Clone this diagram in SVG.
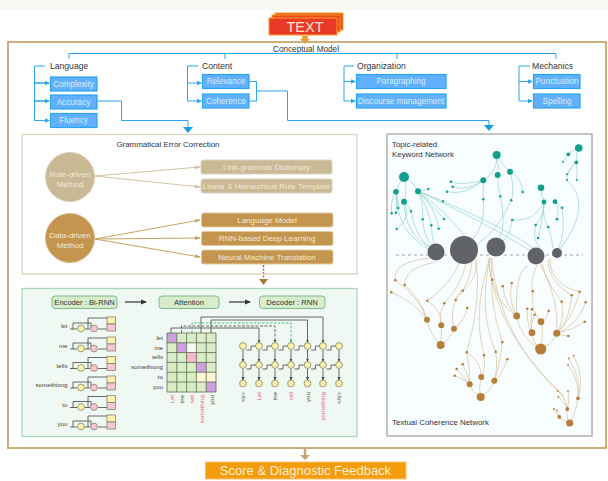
<svg xmlns="http://www.w3.org/2000/svg" width="608" height="481" viewBox="0 0 608 481">
<style>
text{font-family:"Liberation Sans",Arial,sans-serif;}
.lb{font-size:8.6px;fill:#333;}
.sm{font-size:7.9px;fill:#333;}
.bx{fill:#60b0fb;stroke:#2aa5f0;stroke-width:1.2;}
.bt{font-size:8.2px;fill:#d9edff;text-anchor:middle;}
.bl{fill:none;stroke:#2aa5f0;stroke-width:1;}
.rb{fill:#c9b994;stroke:#ddd3bd;}
.db{fill:#c4954f;stroke:#e3c99c;}
.wt{font-size:8px;fill:#f3ead9;text-anchor:middle;}
.rl{fill:none;stroke:#d4c4a2;stroke-width:1;}
.dl{fill:none;stroke:#c9a262;stroke-width:1;}
.gb{fill:#d6eccb;stroke:#82b98f;stroke-width:1;}
.gt{font-size:7.6px;fill:#333;text-anchor:middle;}
.k{fill:none;stroke:#444;stroke-width:.8;}
.y{fill:#fbf2ae;stroke:#77775a;stroke-width:.7;}
.p{fill:#f6c6d4;stroke:#77775a;stroke-width:.7;}
.w{font-size:6.2px;fill:#444;text-anchor:end;}
.r{font-size:6.2px;fill:#e8608a;text-anchor:end;}
.tl{fill:none;stroke:#93d3c8;stroke-width:.7;}
.bn{fill:none;stroke:#d9bf98;stroke-width:.7;}
.t{fill:#12a08c;}
.o{fill:#b57f3a;}
.g{fill:#626366;}
</style>
<defs>
<marker id="ab" markerWidth="5" markerHeight="5" refX="4" refY="2.5" orient="auto" markerUnits="userSpaceOnUse"><path d="M0 0.3L5 2.5L0 4.7Z" fill="#2aa5f0"/></marker>
<marker id="ar" markerWidth="6" markerHeight="6" refX="5" refY="3" orient="auto" markerUnits="userSpaceOnUse"><path d="M0 1L6 3L0 5Z" fill="#d4c4a2"/></marker>
<marker id="ad" markerWidth="6" markerHeight="6" refX="5" refY="3" orient="auto" markerUnits="userSpaceOnUse"><path d="M0 1L6 3L0 5Z" fill="#c9a262"/></marker>
<marker id="ak" markerWidth="6" markerHeight="6" refX="5" refY="3" orient="auto" markerUnits="userSpaceOnUse"><path d="M0 .5L6 3L0 5.5Z" fill="#333"/></marker>
<marker id="as" markerWidth="4" markerHeight="4" refX="3" refY="2" orient="auto" markerUnits="userSpaceOnUse"><path d="M0 .5L3.5 2L0 3.5Z" fill="#444"/></marker>
<marker id="ag" markerWidth="4" markerHeight="4" refX="3" refY="2" orient="auto" markerUnits="userSpaceOnUse"><path d="M0 .5L3.5 2L0 3.5Z" fill="#3aa878"/></marker>
<g id="enc">
<path class="k" d="M70 3H77M73 3V-3H91V2M85 3H90M88 3V-8H107M98 3H107"/>
<circle class="y" cx="81" cy="2.5" r="3.4"/><circle class="p" cx="94" cy="2.5" r="3.4"/>
<rect class="y" x="107" y="-9" width="8.5" height="7"/><rect class="p" x="107" y="-2" width="8.5" height="7"/>
</g>
<g id="dc">
<path class="k" marker-end="url(#as)" d="M0 349.5V361.5"/><path class="k" marker-end="url(#as)" d="M0 368.5V380"/>
<circle class="y" cx="0" cy="346" r="3.4"/><circle class="y" cx="0" cy="365" r="3.4"/><circle class="y" cx="0" cy="383.5" r="3.4"/>
</g>
<g id="ds"><path class="k" d="M3.5 350H8V346H12.5M3.5 369H8V365H12.5"/></g>
</defs>
<rect width="608" height="481" fill="#fff"/>
<rect width="608" height="10" fill="#fbf9f4"/>

<g id="text-stack">
<rect x="275" y="13" width="68" height="17" fill="#e8471f" stroke="#f7a21e"/>
<rect x="272" y="15" width="68" height="17" fill="#e8471f" stroke="#f7a21e"/>
<rect x="269" y="18" width="68" height="17" fill="#e83a26" stroke="#f7a21e"/>
<text x="305" y="32" font-size="14.5" fill="#fbe3d0" text-anchor="middle">TEXT</text>
</g>
<path d="M302 36H308V39H310L305 44L300 39H302Z" fill="#f0a030"/>

<g id="conceptual-model">
<rect x="8" y="42" width="598" height="406" fill="none" stroke="#c9a66f" stroke-width="1.8"/>
<text x="306" y="52" font-size="8.2" fill="#333" text-anchor="middle">Conceptual Model</text>
</g>

<g id="connectors">
<path class="bl" stroke-width="1" d="M69 59V53.5H556V59M225 53.5V59M397 53.5V59"/>
<path class="bl" d="M45 66H34.5V120.500M34.500 83H46M34.500 101H46M34.500 120.500H46"/>
<path class="bl" marker-end="url(#ab)" d="M34.500 83H49"/><path class="bl" marker-end="url(#ab)" d="M34.500 101H49"/><path class="bl" marker-end="url(#ab)" d="M34.500 120.500H49"/>
<path class="bl" d="M198 66H187.500V101"/>
<path class="bl" marker-end="url(#ab)" d="M187.500 83H201"/><path class="bl" marker-end="url(#ab)" d="M187.500 101H201"/>
<path class="bl" d="M354 66H344V101"/>
<path class="bl" marker-end="url(#ab)" d="M344 81.500H355"/><path class="bl" marker-end="url(#ab)" d="M344 101H355"/>
<path class="bl" d="M530 66H519V101"/>
<path class="bl" marker-end="url(#ab)" d="M519 81.500H532"/><path class="bl" marker-end="url(#ab)" d="M519 101H532"/>
<path class="bl" d="M97 101H121.500V120.500H188V127"/><path d="M183 127H193L188 133Z" fill="#1b9ae4"/>
<path class="bl" d="M249 81.500H256.500V101H249M256.500 91H287.500V120.500H489V125"/><path d="M484 125H494L489 131Z" fill="#1b9ae4"/>
<path class="rl" marker-end="url(#ar)" d="M95 176L200 167"/><path class="rl" marker-end="url(#ar)" d="M95 176L200 187"/>
<path class="dl" marker-end="url(#ad)" d="M95 239L200 220"/><path class="dl" marker-end="url(#ad)" d="M95 239L200 238"/><path class="dl" marker-end="url(#ad)" d="M95 239L200 257"/>
<path d="M263.500 265V279" fill="none" stroke="#a8763a" stroke-width="1.500" stroke-dasharray="2 1.500"/><path d="M259 279H268L263.500 285Z" fill="#a8763a"/>
<path d="M305 448V456" stroke="#c9a66f" stroke-width="2.500" fill="none"/><path d="M300 455H310L305 460Z" fill="#c9a66f"/>
</g>

<g id="language"><text class="lb" x="50" y="69">Language</text>
<rect class="bx" x="50.500" y="77" width="46.500" height="14"/><text class="bt" x="73.500" y="86.500">Complexity</text>
<rect class="bx" x="50.500" y="95" width="46.500" height="14"/><text class="bt" x="73.500" y="104.500">Accuracy</text>
<rect class="bx" x="50.500" y="113.500" width="46.500" height="14"/><text class="bt" x="73.500" y="123">Fluency</text></g>
<g id="content"><text class="lb" x="202" y="69">Content</text>
<rect class="bx" x="202.500" y="74.500" width="46.500" height="14"/><text class="bt" x="226" y="84">Relevance</text>
<rect class="bx" x="202.500" y="94" width="46.500" height="14"/><text class="bt" x="226" y="104">Coherence</text></g>
<g id="organization"><text class="lb" x="357" y="69">Organization</text>
<rect class="bx" x="356.500" y="74.500" width="89.500" height="14"/><text class="bt" x="401" y="84">Paragraphing</text>
<rect class="bx" x="356.500" y="94" width="89.500" height="14"/><text class="bt" x="401" y="104">Discourse management</text></g>
<g id="mechanics"><text class="lb" x="532" y="69">Mechanics</text>
<rect class="bx" x="533.500" y="74.500" width="46.500" height="14"/><text class="bt" x="557" y="84">Punctuation</text>
<rect class="bx" x="533.500" y="94" width="46.500" height="14"/><text class="bt" x="557" y="104">Spelling</text></g>

<g id="gec">
<rect x="22" y="134.500" width="335" height="139.500" fill="none" stroke="#ddd3bd" stroke-width="1.300"/>
<text class="sm" x="168" y="146.500" text-anchor="middle">Grammatical Error Correction</text>
</g>
<g id="rule-driven"><circle cx="70" cy="177" r="24.500" fill="#c9b994" stroke="#d8ccb0"/><text class="wt" x="70" y="177">Rule-driven</text><text class="wt" x="70" y="187">Method</text></g>
<g id="data-driven"><circle cx="70" cy="238" r="24.500" fill="#c4954f" stroke="#d8b888"/><text class="wt" x="70" y="238">Data-driven</text><text class="wt" x="70" y="247.500">Method</text></g>
<g id="g1"><rect class="rb" x="201" y="160" width="131" height="14" rx="2"/><text class="wt" x="266.500" y="169.500">Link-grammar Dictionary</text></g>
<g id="g2"><rect class="rb" x="201" y="179" width="131" height="14" rx="2"/><text class="wt" x="266.500" y="188.500">Linear &amp; Hierarchical Rule Template</text></g>
<g id="g3"><rect class="db" x="201.500" y="213" width="131.500" height="14" rx="2"/><text class="wt" x="267" y="222.500">Language Model</text></g>
<g id="g4"><rect class="db" x="201.500" y="231.500" width="131.500" height="14" rx="2"/><text class="wt" x="267" y="241">RNN-based Deep Learning</text></g>
<g id="g5"><rect class="db" x="201.500" y="250" width="131.500" height="14" rx="2"/><text class="wt" x="267" y="259.500">Neural Machine Translation</text></g>

<g id="nmt">
<rect x="22" y="288.500" width="335" height="148" fill="#eff8f2" stroke="#a9d8be" stroke-width="1.300"/>
<g id="encoder"><rect class="gb" x="52" y="296" width="65" height="12.500" rx="3"/><text class="gt" x="84.500" y="305">Encoder : Bi-RNN</text></g>
<g id="attention"><rect class="gb" x="159" y="296" width="60" height="12.500" rx="3"/><text class="gt" x="189" y="305">Attention</text></g>
<g id="decoder"><rect class="gb" x="259.500" y="296" width="65.500" height="12.500" rx="3"/><text class="gt" x="292" y="305">Decoder : RNN</text></g>
<path d="M125 302H146" stroke="#333" stroke-width="1.200" marker-end="url(#ak)" fill="none"/>
<path d="M229 302H250" stroke="#333" stroke-width="1.200" marker-end="url(#ak)" fill="none"/>

<use href="#enc" y="326"/><use href="#enc" y="346"/><use href="#enc" y="365.500"/><use href="#enc" y="385"/><use href="#enc" y="404.500"/><use href="#enc" y="424"/>
<g font-size="6.200" fill="#444">
<text class="w" x="67.500" y="328">let</text><text class="w" x="67.500" y="348">me</text><text class="w" x="67.500" y="367.500">tells</text><text class="w" x="67.500" y="387">somethiong</text><text class="w" x="67.500" y="406.500">to</text><text class="w" x="67.500" y="426">you</text>
</g>

<rect x="167" y="333" width="49" height="59" fill="#d9eec6"/>
<rect x="167" y="333" width="9.800" height="9.800" fill="#cf9fe0"/>
<rect x="176.800" y="342.800" width="9.800" height="9.800" fill="#cf9fe0"/>
<rect x="186.600" y="342.800" width="9.800" height="9.800" fill="#f8faf4"/>
<rect x="186.600" y="352.600" width="9.800" height="9.800" fill="#f9b9cc"/>
<rect x="196.400" y="362.400" width="9.800" height="9.800" fill="#cf9fe0"/>
<rect x="196.400" y="372.200" width="19.600" height="9.800" fill="#fdf7d4"/>
<rect x="206.200" y="382" width="9.800" height="10" fill="#cf9fe0"/>
<path d="M167 333H216V392H167ZM176.800 333V392M186.600 333V392M196.400 333V392M206.200 333V392M167 342.800H216M167 352.600H216M167 362.400H216M167 372.200H216M167 382H216" fill="none" stroke="#5c6a50" stroke-width=".8"/>
<text class="w" x="163" y="340">let</text><text class="w" x="163" y="349.500">me</text><text class="w" x="163" y="359">tells</text><text class="w" x="163" y="369">somethiong</text><text class="w" x="163" y="379">to</text><text class="w" x="163" y="388.500">you</text>
<text class="r" transform="translate(174 395) rotate(-90)">Let</text>
<text class="w" transform="translate(184 395) rotate(-90)">me</text>
<text class="r" transform="translate(194 395) rotate(-90)">tell</text>
<text class="r" transform="translate(203.500 395) rotate(-90)">something</text>
<text class="w" transform="translate(213.500 395) rotate(-90)">you</text>

<use href="#dc" x="243"/><use href="#dc" x="259"/><use href="#dc" x="275"/><use href="#dc" x="291"/><use href="#dc" x="307.500"/><use href="#dc" x="323"/><use href="#dc" x="339"/>
<use href="#ds" x="243"/><use href="#ds" x="259"/><use href="#ds" x="275"/><use href="#ds" x="291"/><use href="#ds" x="307.500"/><use href="#ds" x="323"/>
<path class="k" marker-end="url(#as)" d="M171 333V328H259V342.500"/>
<path class="k" stroke-dasharray="3 1.500" marker-end="url(#as)" d="M181.500 333V326H275V342.500"/>
<path fill="none" stroke="#3aa878" stroke-width=".8" stroke-dasharray="2.500 1.500" marker-end="url(#ag)" d="M192 333V323H291V342.500"/>
<path class="k" marker-end="url(#as)" d="M201 333V317H323V342.500"/>
<path class="k" marker-end="url(#as)" d="M211 333V320H307.500V342.500"/>
<text class="w" transform="translate(245 392) rotate(-90)">&lt;s&gt;</text>
<text class="r" transform="translate(261 392) rotate(-90)">Let</text>
<text class="w" transform="translate(277 392) rotate(-90)">me</text>
<text class="r" transform="translate(293 392) rotate(-90)">tell</text>
<text class="w" transform="translate(309.500 392) rotate(-90)">you</text>
<text class="r" transform="translate(325 392) rotate(-90)">something</text>
<text class="w" transform="translate(341 392) rotate(-90)">&lt;/s&gt;</text>
</g>

<g id="network">
<rect x="387" y="134" width="205" height="302" fill="#f8fdff" stroke="#b0b0b0" stroke-width="1.500"/>
<text class="sm" x="392" y="147">Topic-related</text>
<text class="sm" x="392" y="156.500">Keyword Network</text>
<text class="sm" x="392" y="424.500">Textual Coherence Network</text>
<path d="M396 255H583" stroke="#a5a5a5" stroke-width="1" stroke-dasharray="3 3" fill="none"/>

<g id="teal-links" class="tl">
<path d="M404 177Q398 184 396 192M404 177Q408 190 404 202M404 177Q412 180 418 191M396 192Q390 200 391.700 213M396 192Q398 202 396 212.700M396 192Q399 200 398.300 208M404 202Q412 218 396.700 229M396 192Q396 232 430 250M404 202Q405 235 431 248M404 202Q409 205 411 211M411 211Q416 240 432 248"/>
<path d="M418 191Q424 191 428.300 189M418 191L443 201.300M418 191Q424 205 422.700 219.300M418 191Q428 208 431.300 225.300M418 191Q432 205 444 219M418 191Q436 208 438.700 228.700M422.700 219Q424 238 432 245M431.300 225Q432 238 434 244M418 191Q450 215 466 238M443 201.300Q500 225 535 249M418 191Q490 225 532 252"/>
<path d="M483.300 180.300Q462 186 451 181.700M483.300 180.300Q465 192 452.700 186.700M483.300 180.300Q465 196 447 191.700M496.700 155Q498 172 483.300 180.300M496.700 155Q499 165 497.700 175M496.700 155Q502 165 510 171.700M510 171.700Q522 178 522.700 192M510 171.700Q515 188 511.300 200.300M497.700 175Q498 188 500.300 196.300M483.300 180.300V199.300M483.300 199.300Q486 225 472 240M511.300 200.300Q498 232 474 246M500.300 196.300Q506 222 500 238"/>
<path d="M541 187.700Q541 196 544 202M544 202Q535 222 512.300 220M544 202Q544 215 535.700 225M544 202Q542 218 548.300 227M544 202Q542 225 538 238M555 201.700Q558 204 562 207.700M555 201.700Q560 210 557 219.300M562 207.700Q566 232 558 250M548.300 227Q552 238 553 248M512.300 220Q510 235 502 242M535.700 225Q532 240 540 248"/>
<path d="M578.700 148Q572 151 568.300 154.300M578.700 148Q575 155 576.300 162.300M568.300 154.300Q566 159 563 161.700M576.300 162.300Q570 168 567 174.300M576.300 162.300Q566 172 567 180M576.300 162.300Q578 170 576.700 180M567 180Q594 205 560 249"/>
</g>

<g id="brown-links" class="bn">
<path d="M430 258Q392 262 395.300 280.300M436 262Q404 268 404.700 285M395.300 280.300Q420 298 427 319.700M404.700 285Q422 300 427 319.700M391.300 292.300Q415 302 427 319.700M460 262Q450 285 427.300 300.700M427.300 300.700Q442 310 441.300 325.300M466 263Q462 285 444.300 303.300M444.300 303.300Q438 315 441.300 325.300M427 319.700Q430 335 440.700 345M441.300 325.300Q442 335 440.700 345M454 328.700Q450 340 440.700 345"/>
<path d="M472 262Q470 285 455.700 300M476 262Q478 278 462.700 290.700M462.700 290.700Q455 296 455.700 300M455.700 300Q450 315 454 328.700M467.300 308Q465 320 454 328.700"/>
<path d="M476 258Q482 300 466.700 352.300M466.700 352.300Q482 362 481.300 377M484 355.300Q486 368 481.300 377M456.700 369Q464 378 469.700 384.300M462.700 364.300Q468 374 469.700 384.300M454.700 375.700Q462 378 469.700 384.300M466.700 352.300Q470 368 469.700 384.300M469.700 384.300Q472 392 480.700 397M481.300 377Q478 388 480.700 397M494.300 380.700Q490 392 480.700 397M495.700 351.700Q498 368 494.300 380.700M502.300 342Q500 365 494.300 380.700M507.300 359.300Q502 375 494.300 380.700"/>
<path d="M490 258Q472 310 484 355.300M490 258Q478 310 495.700 351.700M492 258Q488 300 502.300 342M490 258Q488 270 492.300 279.700M492.300 279.700Q498 305 516.700 316M502.700 286.300Q505 305 516.700 316M511.700 283Q508 300 516.700 316M516.700 316Q520 338 540.700 349M532 332.700Q532 342 540.700 349M541 321.700Q544 335 540.700 349M556.700 333.300Q552 345 540.700 349"/>
<path d="M528 266Q515 270 516.700 316M527.300 308.700Q526 322 532 332.700M532 309.300Q530 322 532 332.700M534.700 314.700Q530 325 532 332.700M548.700 311Q546 320 541 321.700M532.700 291.300Q530 310 541 321.700M537 265Q530 280 532.700 291.300"/>
<path d="M550 258Q550 285 579.700 291.700M548 260Q548 282 571.700 295.300M542 264Q548 285 561.700 301.700M540 264Q560 300 556.700 333.300M561.700 301.700Q565 320 556.700 333.300M571.700 295.300Q570 320 556.700 333.300M579.700 291.700Q572 320 556.700 333.300M585.700 302.300Q578 325 556.700 333.300M584.700 321.700Q572 330 556.700 333.300M568.300 336Q562 336 556.700 333.300"/>
<path d="M488 258Q495 330 558 391M491 258Q500 340 564 396M558 391Q566 398 567.300 409M568 391Q570 400 567.300 409M558.300 397Q564 402 567.300 409M567.300 409Q566 418 569.700 423M578 398.300Q576 412 569.700 423M568.700 358.300Q582 380 578 398.300M573.700 355.700Q585 378 578 398.300M568 365Q580 382 578 398.300M554 409Q556 414 559.300 417M557 410.300Q559 414 559.300 417M559.300 417Q564 421 569.700 423"/>
</g>

<g id="gray-nodes" class="g">
<circle cx="436" cy="252" r="8.500"/><circle cx="464" cy="250" r="14"/><circle cx="496" cy="247" r="9.500"/><circle cx="536" cy="256" r="8.500"/><circle cx="557" cy="253" r="5"/>
</g>
<g id="teal-nodes" class="t">
<circle cx="404" cy="177" r="5"/><circle cx="396" cy="191.700" r="2.800"/><circle cx="404" cy="201.700" r="3"/><circle cx="418" cy="191.300" r="3"/>
<circle cx="483.300" cy="180.300" r="3"/><circle cx="496.700" cy="155" r="4"/><circle cx="497.700" cy="175" r="3"/><circle cx="510" cy="171.700" r="3"/>
<circle cx="541" cy="187.700" r="3.300"/><circle cx="544" cy="202" r="2.400"/><circle cx="555" cy="201.700" r="2.400"/><circle cx="578.700" cy="148" r="3.800"/><circle cx="568.300" cy="154.300" r="1.900"/><circle cx="576.300" cy="162.300" r="1.900"/>
<g id="teal-small">
<circle cx="391.700" cy="213.300" r="1.200"/><circle cx="396" cy="212.700" r="1.200"/><circle cx="398.300" cy="208" r="1.200"/><circle cx="411" cy="211.300" r="1.200"/><circle cx="396.700" cy="229" r="1.200"/><circle cx="428.300" cy="189" r="1.200"/><circle cx="443" cy="201.300" r="1.200"/><circle cx="422.700" cy="219.300" r="1.200"/><circle cx="431.300" cy="225.300" r="1.200"/><circle cx="444" cy="219" r="1.200"/><circle cx="438.700" cy="228.700" r="1.200"/>
<circle cx="451" cy="181.700" r="1.300"/><circle cx="452.700" cy="186.700" r="1.300"/><circle cx="447" cy="191.700" r="1.300"/><circle cx="522.700" cy="192" r="1.300"/><circle cx="500.300" cy="196.300" r="1.300"/><circle cx="511.300" cy="200.300" r="1.300"/><circle cx="483.300" cy="199.300" r="1.300"/>
<circle cx="562" cy="207.700" r="1.300"/><circle cx="557" cy="219.300" r="1.300"/><circle cx="512.300" cy="220" r="1.300"/><circle cx="535.700" cy="225" r="1.300"/><circle cx="548.300" cy="227" r="1.300"/><circle cx="538" cy="238" r="1.300"/>
<circle cx="563" cy="161.700" r="1"/><circle cx="567" cy="174.300" r="1"/><circle cx="567" cy="180" r="1"/><circle cx="576.700" cy="180" r="1"/>
</g>
</g>
<g id="brown-nodes" class="o">
<circle cx="427" cy="319.700" r="3"/><circle cx="441.300" cy="325.300" r="3"/><circle cx="454" cy="328.700" r="3"/><circle cx="440.700" cy="345" r="4"/>
<circle cx="469.700" cy="384.300" r="3"/><circle cx="481.300" cy="377" r="3"/><circle cx="494.300" cy="380.700" r="3"/><circle cx="480.700" cy="397" r="4"/>
<circle cx="516.700" cy="316" r="3.400"/><circle cx="532" cy="332.700" r="3.400"/><circle cx="541" cy="321.700" r="3.400"/><circle cx="540.700" cy="349" r="5.600"/><circle cx="556.700" cy="333.300" r="3.500"/>
<circle cx="578" cy="398.300" r="1.900"/><circle cx="567.300" cy="409" r="1.900"/><circle cx="559.300" cy="417" r="1.900"/><circle cx="569.700" cy="423" r="3.600"/>
<g id="brown-small">
<circle cx="395.300" cy="280.300" r="1.300"/><circle cx="404.700" cy="285" r="1.300"/><circle cx="391.300" cy="292.300" r="1.300"/><circle cx="427.300" cy="300.700" r="1.300"/><circle cx="444.300" cy="303.300" r="1.300"/><circle cx="455.700" cy="300" r="1.300"/><circle cx="462.700" cy="290.700" r="1.300"/><circle cx="467.300" cy="308" r="1.300"/>
<circle cx="466.700" cy="352.300" r="1.300"/><circle cx="484" cy="355.300" r="1.300"/><circle cx="456.700" cy="369" r="1.300"/><circle cx="462.700" cy="364.300" r="1.300"/><circle cx="454.700" cy="375.700" r="1.300"/><circle cx="495.700" cy="351.700" r="1.300"/><circle cx="502.300" cy="342" r="1.300"/><circle cx="507.300" cy="359.300" r="1.300"/>
<circle cx="492.300" cy="279.700" r="1.300"/><circle cx="502.700" cy="286.300" r="1.300"/><circle cx="511.700" cy="283" r="1.300"/><circle cx="527.300" cy="308.700" r="1.300"/><circle cx="532" cy="309.300" r="1.300"/><circle cx="534.700" cy="314.700" r="1.300"/><circle cx="548.700" cy="311" r="1.300"/><circle cx="532.700" cy="291.300" r="1.300"/>
<circle cx="561.700" cy="301.700" r="1.300"/><circle cx="571.700" cy="295.300" r="1.300"/><circle cx="579.700" cy="291.700" r="1.300"/><circle cx="585.700" cy="302.300" r="1.300"/><circle cx="584.700" cy="321.700" r="1.300"/><circle cx="568.300" cy="336" r="1.300"/>
<circle cx="568.700" cy="358.300" r=".9"/><circle cx="573.700" cy="355.700" r=".9"/><circle cx="568" cy="365" r=".9"/><circle cx="558" cy="391" r=".9"/><circle cx="568" cy="391" r=".9"/><circle cx="558.300" cy="397" r=".9"/><circle cx="554" cy="409" r=".9"/><circle cx="557" cy="410.300" r=".9"/>
</g>
</g>
</g>

<g id="score">
<rect x="205.500" y="462" width="200.500" height="17" fill="#f39c0e" stroke="#f9c26e"/>
<text x="305.500" y="475" font-size="13" fill="#fdeed2" text-anchor="middle">Score &amp; Diagnostic Feedback</text>
</g>
</svg>
